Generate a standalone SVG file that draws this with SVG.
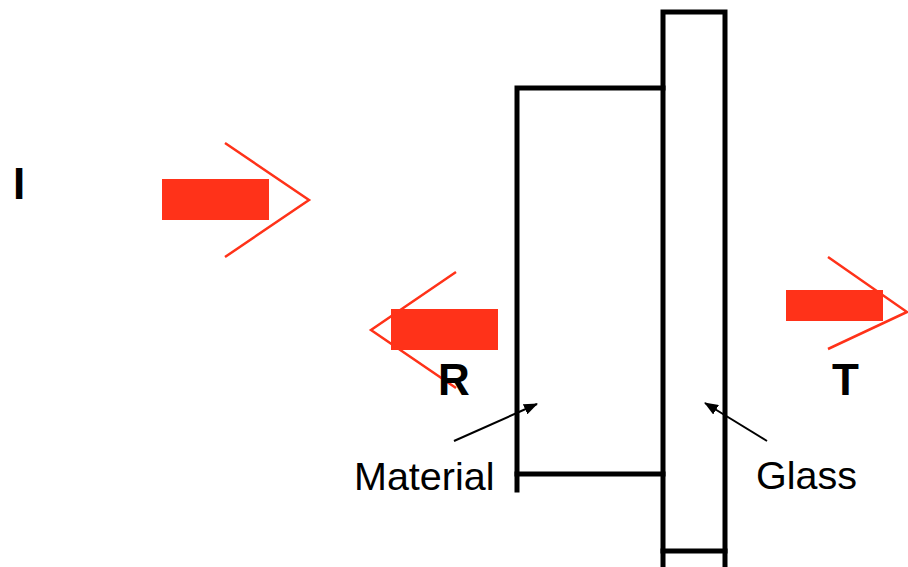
<svg xmlns="http://www.w3.org/2000/svg" width="908" height="567" viewBox="0 0 908 567">
<style>
.wall{fill:none;stroke:#000;stroke-width:5;stroke-linecap:square}
.bar{fill:#ff3219}
.chev{fill:none;stroke:#ff3219;stroke-width:2.5}
.big{font-family:"Liberation Sans",Arial,sans-serif;font-weight:bold;font-size:44px;fill:#000}
.lbl{font-family:"Liberation Sans",Arial,sans-serif;font-size:39.5px;fill:#000}
.ptr{fill:none;stroke:#000;stroke-width:2}
</style>
<defs>
<marker id="ah" markerWidth="14" markerHeight="11" refX="13" refY="5.5" orient="auto" markerUnits="userSpaceOnUse" viewBox="0 0 14 11">
<path d="M0,0 L14,5.5 L0,11 z" fill="#000"/>
</marker>
</defs>
<rect width="908" height="567" fill="#fff"/>
<g id="material">
<path class="wall" d="M517,490 V88 H663"/>
<path class="wall" d="M517,474 H663"/>
</g>
<g id="glass">
<path class="wall" d="M663,570 V12 H725 V570"/>
<path class="wall" d="M663,551 H725"/>
</g>
<g id="incident">
<rect class="bar" x="162" y="179" width="107" height="41"/>
<polyline class="chev" points="225,143 309,200 225,257"/>
<text class="big" x="13" y="199">I</text>
</g>
<g id="reflected">
<rect class="bar" x="391" y="309" width="107" height="41"/>
<polyline class="chev" points="456,272 371,330 456,388"/>
<text class="big" x="438" y="395">R</text>
</g>
<g id="transmitted">
<rect class="bar" x="786" y="290" width="97" height="31"/>
<polyline class="chev" points="828,257 907,312 828,349"/>
<text class="big" x="832" y="395">T</text>
</g>
<g id="labels">
<text class="lbl" x="354" y="490">Material</text>
<text class="lbl" x="756" y="489">Glass</text>
</g>
<g id="connectors">
<line class="ptr" x1="454" y1="441" x2="537" y2="404" marker-end="url(#ah)"/>
<line class="ptr" x1="767" y1="441" x2="705" y2="403" marker-end="url(#ah)"/>
</g>
</svg>
